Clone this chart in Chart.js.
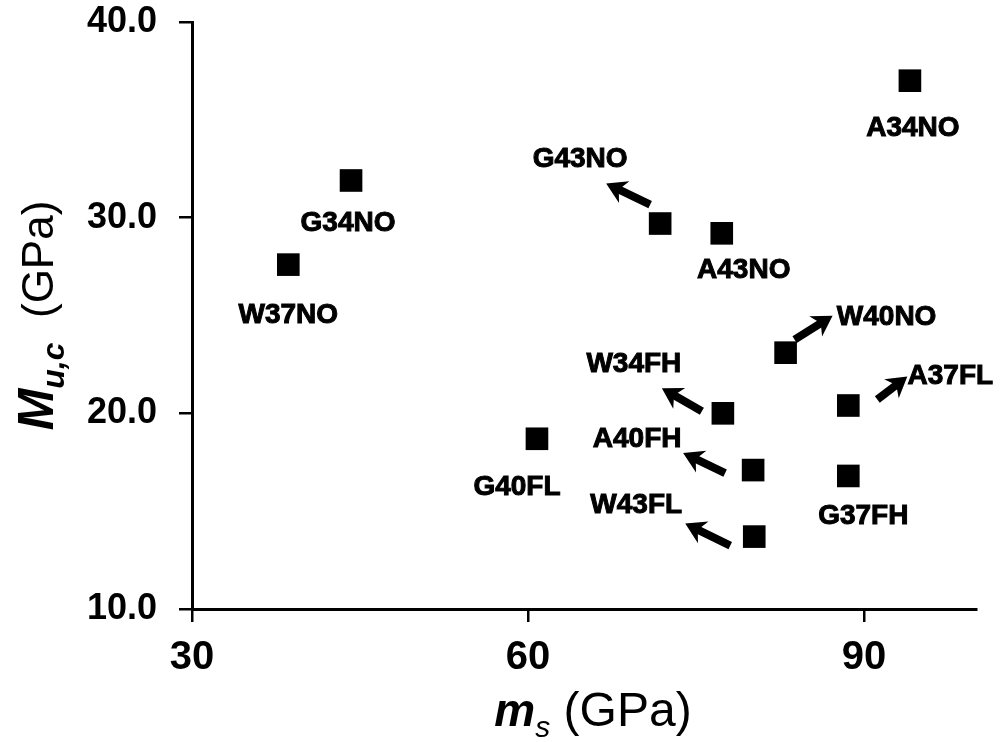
<!DOCTYPE html>
<html>
<head>
<meta charset="utf-8">
<script src="https://cdn.jsdelivr.net/npm/chart.js@4.4.1/dist/chart.umd.min.js"></script>
<style>
  html, body { margin: 0; padding: 0; background: #fff; }
  #wrap { width: 1000px; height: 742px; }
</style>
</head>
<body>
<div id="wrap"><canvas id="chart"></canvas></div>
<script>
const specimens = ['A34NO', 'G34NO', 'W37NO', 'G43NO', 'A43NO', 'W40NO', 'A37FL', 'W34FH', 'G40FL', 'A40FH', 'G37FH', 'W43FL'];
const msValues = [94.1, 44.2, 38.6, 71.8, 77.3, 83.0, 88.6, 77.4, 60.8, 80.1, 88.6, 80.2];
const mucValues = [37.0, 31.9, 27.6, 29.7, 29.2, 23.1, 20.4, 20.0, 18.7, 17.1, 16.8, 13.7];
const xTicks = [30, 60, 90];
const yTicks = [10, 20, 30, 40];

const FONT = "'Liberation Sans', Arial, sans-serif";

// where each label sits relative to its square (px), plus an optional arrow [tailDx, tailDy, tipDx, tipDy]
const labelPlacement = {
    A34NO: { at: [3, 45] },
    G34NO: { at: [-3, 41] },
    W37NO: { at: [0, 48] },
    G43NO: { at: [-80, -67], arrow: [-10, -19, -54, -40] },
    A43NO: { at: [22, 35] },
    W40NO: { at: [101, -38], arrow: [9, -13, 47, -37] },
    A37FL: { at: [102, -32], arrow: [29, -6, 59, -29] },
    W34FH: { at: [-89, -51], arrow: [-21, -2, -61, -25] },
    G40FL: { at: [-20, 46] },
    A40FH: { at: [-116, -33], arrow: [-28, 3, -70, -17] },
    G37FH: { at: [15, 38] },
    W43FL: { at: [-118, -34], arrow: [-24, 9, -69, -13] }
};

/**
 * Thick arrow with a barbed head
 */
function drawArrow(ctx, x1, y1, x2, y2) {
    const ang = Math.atan2(y2 - y1, x2 - x1);
    const cos = Math.cos(ang), sin = Math.sin(ang);
    const head = 20, half = 12;
    const bx = x2 - head * cos, by = y2 - head * sin;
    ctx.beginPath();
    ctx.moveTo(x1, y1);
    ctx.lineTo(x2 - head * 0.6 * cos, y2 - head * 0.6 * sin);
    ctx.lineWidth = 8;
    ctx.stroke();
    ctx.beginPath();
    ctx.moveTo(x2, y2);
    ctx.lineTo(bx + half * sin, by - half * cos);
    ctx.lineTo(x2 - head * 0.7 * cos, y2 - head * 0.7 * sin);
    ctx.lineTo(bx - half * sin, by + half * cos);
    ctx.closePath();
    ctx.fill();
}

const annotations = {
    id: 'annotations',
    afterDatasetsDraw(chart) {
        const ctx = chart.ctx;
        const points = chart.getDatasetMeta(0).data;
        ctx.save();
        ctx.fillStyle = '#000';
        ctx.strokeStyle = '#000';
        ctx.lineWidth = 1;
        ctx.font = `bold 28px ${FONT}`;
        ctx.textAlign = 'center';
        ctx.textBaseline = 'alphabetic';
        specimens.forEach((name, i) => {
            const p = points[i];
            const place = labelPlacement[name];
            // offsets give the centre of the capitals, baseline sits half a cap height lower
            const tx = p.x + place.at[0], ty = p.y + place.at[1] + 10;
            ctx.fillText(name, tx, ty);
            ctx.strokeText(name, tx, ty);
            if (place.arrow) {
                const a = place.arrow;
                drawArrow(ctx, p.x + a[0], p.y + a[1], p.x + a[2], p.y + a[3]);
                ctx.lineWidth = 1;
            }
        });
        ctx.restore();
    },
    afterDraw(chart) {
        const ctx = chart.ctx;
        const area = chart.chartArea;
        ctx.save();
        ctx.fillStyle = '#000';
        ctx.textBaseline = 'alphabetic';
        ctx.textAlign = 'left';

        // x title: m_s (GPa)
        const xParts = [
            { t: 'm', f: `italic bold 46px ${FONT}`, dy: 0 },
            { t: 's', f: `italic 30px ${FONT}`, dy: 11 },
            { t: ' (GPa)', f: `48px ${FONT}`, dy: 0 }
        ];
        let total = 0;
        xParts.forEach(p => { ctx.font = p.f; p.w = ctx.measureText(p.t).width; total += p.w; });
        let x = (area.left + area.right) / 2 + 9 - total / 2;
        const xBase = 726;
        xParts.forEach(p => { ctx.font = p.f; ctx.fillText(p.t, x, xBase + p.dy); x += p.w; });

        // y title: M_u,c (GPa), rotated
        const yParts = [
            { t: 'M', f: `italic bold 50px ${FONT}`, dy: 0 },
            { t: 'u,c', f: `italic bold 32px ${FONT}`, dy: 11 },
            { t: '  (GPa)', f: `44px ${FONT}`, dy: 0 }
        ];
        total = 0;
        yParts.forEach(p => { ctx.font = p.f; p.w = ctx.measureText(p.t).width; total += p.w; });
        ctx.translate(53, (area.top + area.bottom) / 2);
        ctx.rotate(-Math.PI / 2);
        x = -total / 2;
        yParts.forEach(p => { ctx.font = p.f; ctx.fillText(p.t, x, p.dy); x += p.w; });
        ctx.restore();
    }
};

const ctx = document.getElementById('chart').getContext('2d');

const chartConfig = {
    type: 'scatter',
    data: {
        datasets: [{
            label: 'Mu,c',
            data: msValues.map((v, i) => ({ x: v, y: mucValues[i] })),
            pointStyle: 'rect',
            pointRadius: 16,
            pointHoverRadius: 16,
            backgroundColor: '#000',
            borderColor: '#000',
            borderWidth: 0
        }]
    },
    options: {
        responsive: true,
        maintainAspectRatio: false,
        animation: false,
        layout: { padding: { top: 22, right: 24, left: 0, bottom: 0 } },
        plugins: {
            legend: { display: false },
            tooltip: { enabled: false }
        },
        scales: {
            x: {
                type: 'linear',
                min: 30,
                max: 100,
                afterBuildTicks: scale => { scale.ticks = xTicks.map(v => ({ value: v })); },
                afterFit: scale => { scale.height = 133; },
                border: { color: '#000', width: 3 },
                grid: { drawOnChartArea: false, color: '#000', lineWidth: 2.5, tickLength: 13 },
                ticks: {
                    color: '#000',
                    maxRotation: 0,
                    padding: 12,
                    font: { family: FONT, weight: 'bold', size: 40 }
                }
            },
            y: {
                type: 'linear',
                min: 10,
                max: 40,
                afterBuildTicks: scale => { scale.ticks = yTicks.map(v => ({ value: v })); },
                afterFit: scale => {
                    scale.width = 192;
                    scale.paddingTop = 0;
                    scale.paddingBottom = 0;
                },
                border: { color: '#000', width: 3 },
                grid: { drawOnChartArea: false, color: '#000', lineWidth: 2.5, tickLength: 13 },
                ticks: {
                    color: '#000',
                    padding: 22,
                    font: { family: FONT, weight: 'bold', size: 36 },
                    callback: v => v.toFixed(1)
                }
            }
        }
    },
    plugins: [annotations]
};

const chart = new Chart(ctx, chartConfig);
</script>
</body>
</html>
